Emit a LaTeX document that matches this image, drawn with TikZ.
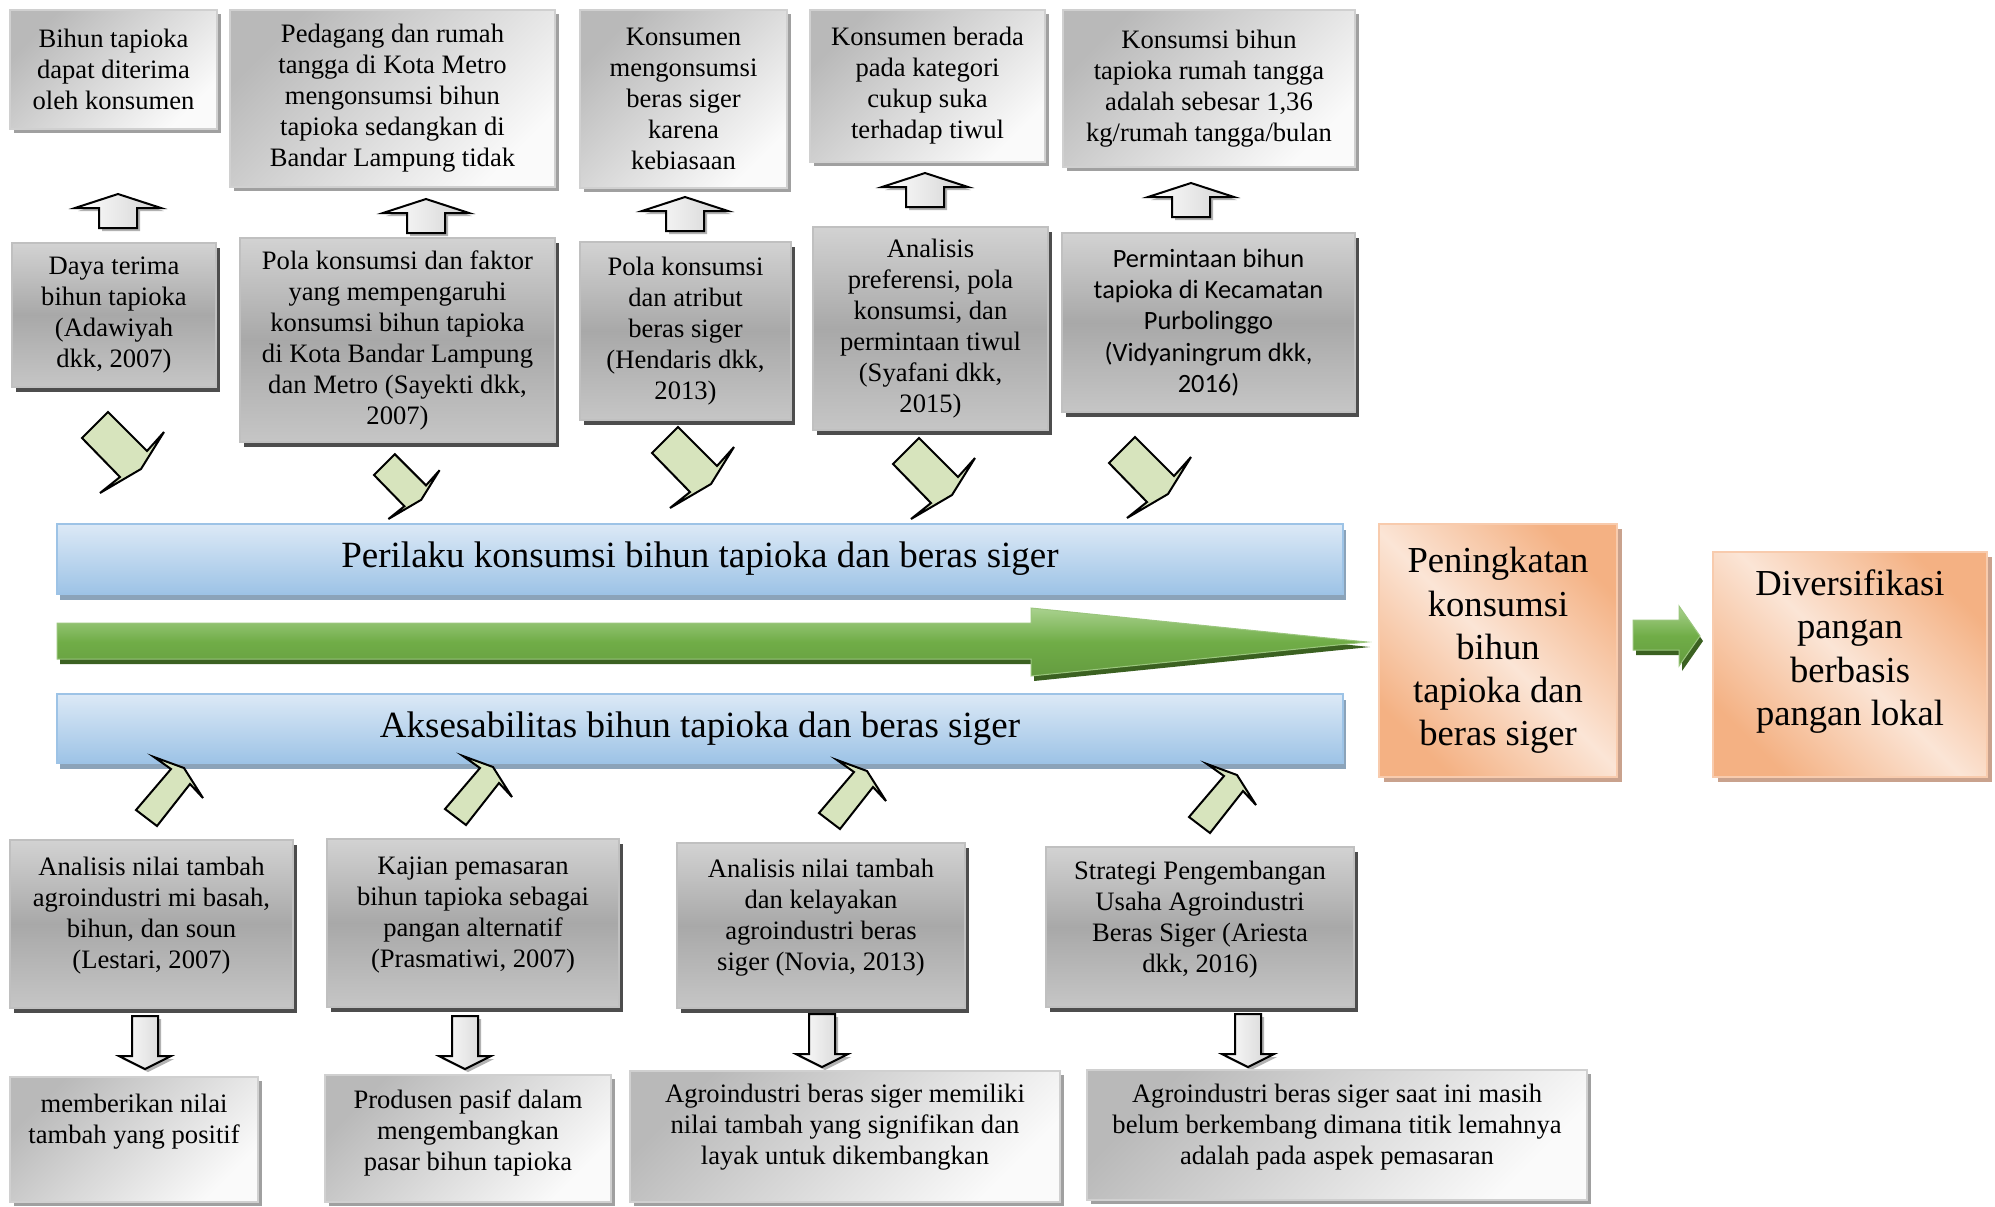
\documentclass[tikz,border=0pt]{standalone}
\usepackage{fontspec}
\setmainfont{Liberation Serif}
\newfontfamily\calibri{Carlito}
\usepackage{tikz}
\usetikzlibrary{shadows, calc}
\definecolor{boxedge}{RGB}{192,192,192}
\definecolor{paledge}{RGB}{208,208,208}
\definecolor{shadowdark}{RGB}{77,77,77}
\definecolor{shadowlight}{RGB}{160,160,160}
\definecolor{barlight}{RGB}{220,233,246}
\definecolor{barblue}{RGB}{157,195,230}
\definecolor{barshadow}{RGB}{139,163,185}
\definecolor{grlight}{RGB}{169,209,142}
\definecolor{grmid}{RGB}{112,173,71}
\definecolor{grdark}{RGB}{59,97,33}
\definecolor{peach}{RGB}{251,229,214}
\definecolor{apricot}{RGB}{244,177,131}
\definecolor{apredge}{RGB}{248,203,173}
\definecolor{aprshadow}{RGB}{201,162,141}
\definecolor{leaf}{RGB}{215,228,189}
\tikzset{
  boxsize/.style 2 args={minimum width=#1*0.5pt, minimum height=#2*0.5pt},
  txt/.style={font=\fontsize{13.3}{15.5}\selectfont, align=center},
  goaltxt/.style={font=\fontsize{18.3}{21.6}\selectfont, align=center},
  resbox/.style={txt, rectangle, draw=paledge, line width=0.6pt, inner sep=0pt,
    top color=gray!55, bottom color=gray!4, shading angle=45,
    drop shadow={shadow xshift=2pt, shadow yshift=-2pt, fill=shadowlight, opacity=1}},
  studybox/.style={txt, rectangle, draw=boxedge, line width=0.8pt, inner sep=0pt,
    top color=gray!35, bottom color=gray!45, middle color=gray!68,
    drop shadow={shadow xshift=2pt, shadow yshift=-2.5pt, fill=shadowdark, opacity=1}},
  bar/.style={rectangle, draw=barblue, line width=0.8pt, inner sep=0pt,
    top color=barlight, bottom color=barblue, font=\fontsize{18.5}{22}\selectfont,
    drop shadow={shadow xshift=1.5pt, shadow yshift=-3pt, fill=barshadow, opacity=1}},
  goal/.style={goaltxt, rectangle, draw=apredge, line width=0.8pt, inner sep=0pt,
    top color=apricot, bottom color=apricot, middle color=peach, shading angle=-45,
    drop shadow={shadow xshift=2.5pt, shadow yshift=-2.5pt, fill=aprshadow, opacity=1}},
  hollow/.style={draw=black, line width=1pt, left color=white, right color=gray!35,
    drop shadow={shadow xshift=1.5pt, shadow yshift=-1.5pt, fill=gray!60, opacity=1}},
  greenarr/.style={draw=grmid!70!white, line width=0.5pt,
    top color=grlight, bottom color=grmid!90!black, middle color=grmid,
    drop shadow={shadow xshift=1.5pt, shadow yshift=-2.5pt, fill=grdark, opacity=1}},
  bent/.style={draw=black, line width=1pt, fill=leaf},
  uparrow/.pic={\path[hollow] (0,0) -- (43,14) -- (19,14) -- (19,34) -- (-19,34) -- (-19,14) -- (-43,14) -- cycle;},
  downarrow/.pic={\path[hollow] (-13,0) -- (13,0) -- (13,40) -- (26,40) -- (0,53) -- (-26,40) -- (-13,40) -- cycle;},
  bentdown/.pic={\draw[bent] (0,0) -- (26,-26) -- (65,13) -- (82,-6) -- (59,31) -- (18,55) -- (38,39) -- cycle;},
  bentup/.pic={\draw[bent] (0,0) -- (-21,-16) -- (14,-57) -- (-3,-69) -- (27,-58) -- (46,-28) -- (33,-42) -- cycle;}
}
\begin{document}
\begin{tikzpicture}[x=0.5pt, y=-0.5pt]
  \useasboundingbox (0,0) rectangle (1995,1206);
  % Findings (top row)
  \node[resbox, boxsize={207}{119}] (accept) at (113.5,69.5) {Bihun tapioka\\dapat diterima\\oleh konsumen};
  \node[resbox, boxsize={325}{177}] (metro) at (392.5,98.5) {Pedagang dan rumah\\tangga di Kota Metro\\mengonsumsi bihun\\tapioka sedangkan di\\Bandar Lampung tidak};
  \node[resbox, boxsize={207}{178}] (habit) at (683.5,99) {Konsumen\\mengonsumsi\\beras siger\\karena\\kebiasaan};
  \node[resbox, boxsize={235}{152}] (tiwul) at (927.5,86) {Konsumen berada\\pada kategori\\cukup suka\\terhadap tiwul};
  \node[resbox, boxsize={292}{157}] (rumah) at (1209,88.5) {Konsumsi bihun\\tapioka rumah tangga\\adalah sebesar 1,36\\kg/rumah tangga/bulan};
  % Studies on consumption
  \node[studybox, boxsize={204}{144}] (adawiyah) at (114,315) {Daya terima\\bihun tapioka\\(Adawiyah\\dkk, 2007)};
  \node[studybox, boxsize={315}{204}] (sayekti) at (397.5,340) {Pola konsumsi dan faktor\\yang mempengaruhi\\konsumsi bihun tapioka\\di Kota Bandar Lampung\\dan Metro (Sayekti dkk,\\2007)};
  \node[studybox, boxsize={211}{178}] (hendaris) at (685.5,331) {Pola konsumsi\\dan atribut\\beras siger\\(Hendaris dkk,\\2013)};
  \node[studybox, boxsize={235}{203}] (syafani) at (930.5,328.5) {Analisis\\preferensi, pola\\konsumsi, dan\\permintaan tiwul\\(Syafani dkk,\\2015)};
  \node[studybox, boxsize={293}{179}, font=\calibri\fontsize{13.2}{15.7}\selectfont] (vidya) at (1208.5,322.5) {Permintaan bihun\\tapioka di Kecamatan\\Purbolinggo\\(Vidyaningrum dkk,\\2016)};
  % Up arrows
  \pic at (118,194) {uparrow};
  \pic at (426,199) {uparrow};
  \pic at (685,197) {uparrow};
  \pic at (925,173) {uparrow};
  \pic at (1191,183) {uparrow};
  % Bent arrows into the first bar
  \pic at (82,438) {bentdown};
  \pic[scale=0.8] at (374,475) {bentdown};
  \pic at (652,453) {bentdown};
  \pic at (893,464) {bentdown};
  \pic at (1109,463) {bentdown};
  % Bars and main arrow
  \node[bar, boxsize={1286}{70}] (perilaku) at (700,559) {Perilaku konsumsi bihun tapioka dan beras siger};
  \node[bar, boxsize={1286}{69}] (akses) at (700,728.5) {Aksesabilitas bihun tapioka dan beras siger};
  \path[greenarr] (57,623) -- (1031,623) -- (1031,608) -- (1367,642) -- (1031,676) -- (1031,659) -- (57,659) -- cycle;
  % Goals
  \node[goal, boxsize={238}{253}] (naik) at (1498,650.5) {Peningkatan\\konsumsi\\bihun\\tapioka dan\\beras siger};
  \node[goal, boxsize={274}{225}] (diversi) at (1850,664.5) {};
  \node[goaltxt] (diversi-t) at ([yshift=6.5pt]diversi.center) {Diversifikasi\\pangan\\berbasis\\pangan lokal};
  \path[greenarr] (1633,620) -- (1679,620) -- (1679,606) -- (1700,636) -- (1679,666) -- (1679,650) -- (1633,650) -- cycle;
  % Bent arrows into the second bar
  \pic at (157,826) {bentup};
  \pic at (466,825) {bentup};
  \pic at (840,829) {bentup};
  \pic at (1210,833) {bentup};
  % Studies on accessibility
  \node[studybox, boxsize={283}{168}] (lestari) at (151.5,924) {};
  \node[txt] (lestari-t) at ([yshift=4pt]lestari.center) {Analisis nilai tambah\\agroindustri mi basah,\\bihun, dan soun\\(Lestari, 2007)};
  \node[studybox, boxsize={292}{168}] (prasma) at (473,923) {};
  \node[txt] (prasma-t) at ([yshift=4pt]prasma.center) {Kajian pemasaran\\bihun tapioka sebagai\\pangan alternatif\\(Prasmatiwi, 2007)};
  \node[studybox, boxsize={288}{165}] (novia) at (821,925.5) {};
  \node[txt] (novia-t) at ([yshift=4pt]novia.center) {Analisis nilai tambah\\dan kelayakan\\agroindustri beras\\siger (Novia, 2013)};
  \node[studybox, boxsize={308}{160}] (ariesta) at (1200,927) {};
  \node[txt] (ariesta-t) at ([yshift=3.5pt]ariesta.center) {Strategi Pengembangan\\Usaha Agroindustri\\Beras Siger (Ariesta\\dkk, 2016)};
  % Down arrows
  \pic at (145,1016) {downarrow};
  \pic at (465,1016) {downarrow};
  \pic at (822,1014) {downarrow};
  \pic at (1248,1014) {downarrow};
  % Findings (bottom row)
  \node[resbox, boxsize={248}{125}] (positif) at (134,1139.5) {};
  \node[txt] (positif-t) at ([yshift=9pt]positif.center) {memberikan nilai\\tambah yang positif};
  \node[resbox, boxsize={286}{127}] (pasif) at (468,1138.5) {};
  \node[txt] (pasif-t) at ([yshift=3pt]pasif.center) {Produsen pasif dalam\\mengembangkan\\pasar bihun tapioka};
  \node[resbox, boxsize={430}{131}] (layak) at (845,1136.5) {};
  \node[txt] (layak-t) at ([yshift=4.5pt]layak.center) {Agroindustri beras siger memiliki\\nilai tambah yang signifikan dan\\layak untuk dikembangkan};
  \node[resbox, boxsize={500}{130}] (lemah) at (1337,1135) {};
  \node[txt] (lemah-t) at ([yshift=4pt]lemah.center) {Agroindustri beras siger saat ini masih\\belum berkembang dimana titik lemahnya\\adalah pada aspek pemasaran};
\end{tikzpicture}
\end{document}
